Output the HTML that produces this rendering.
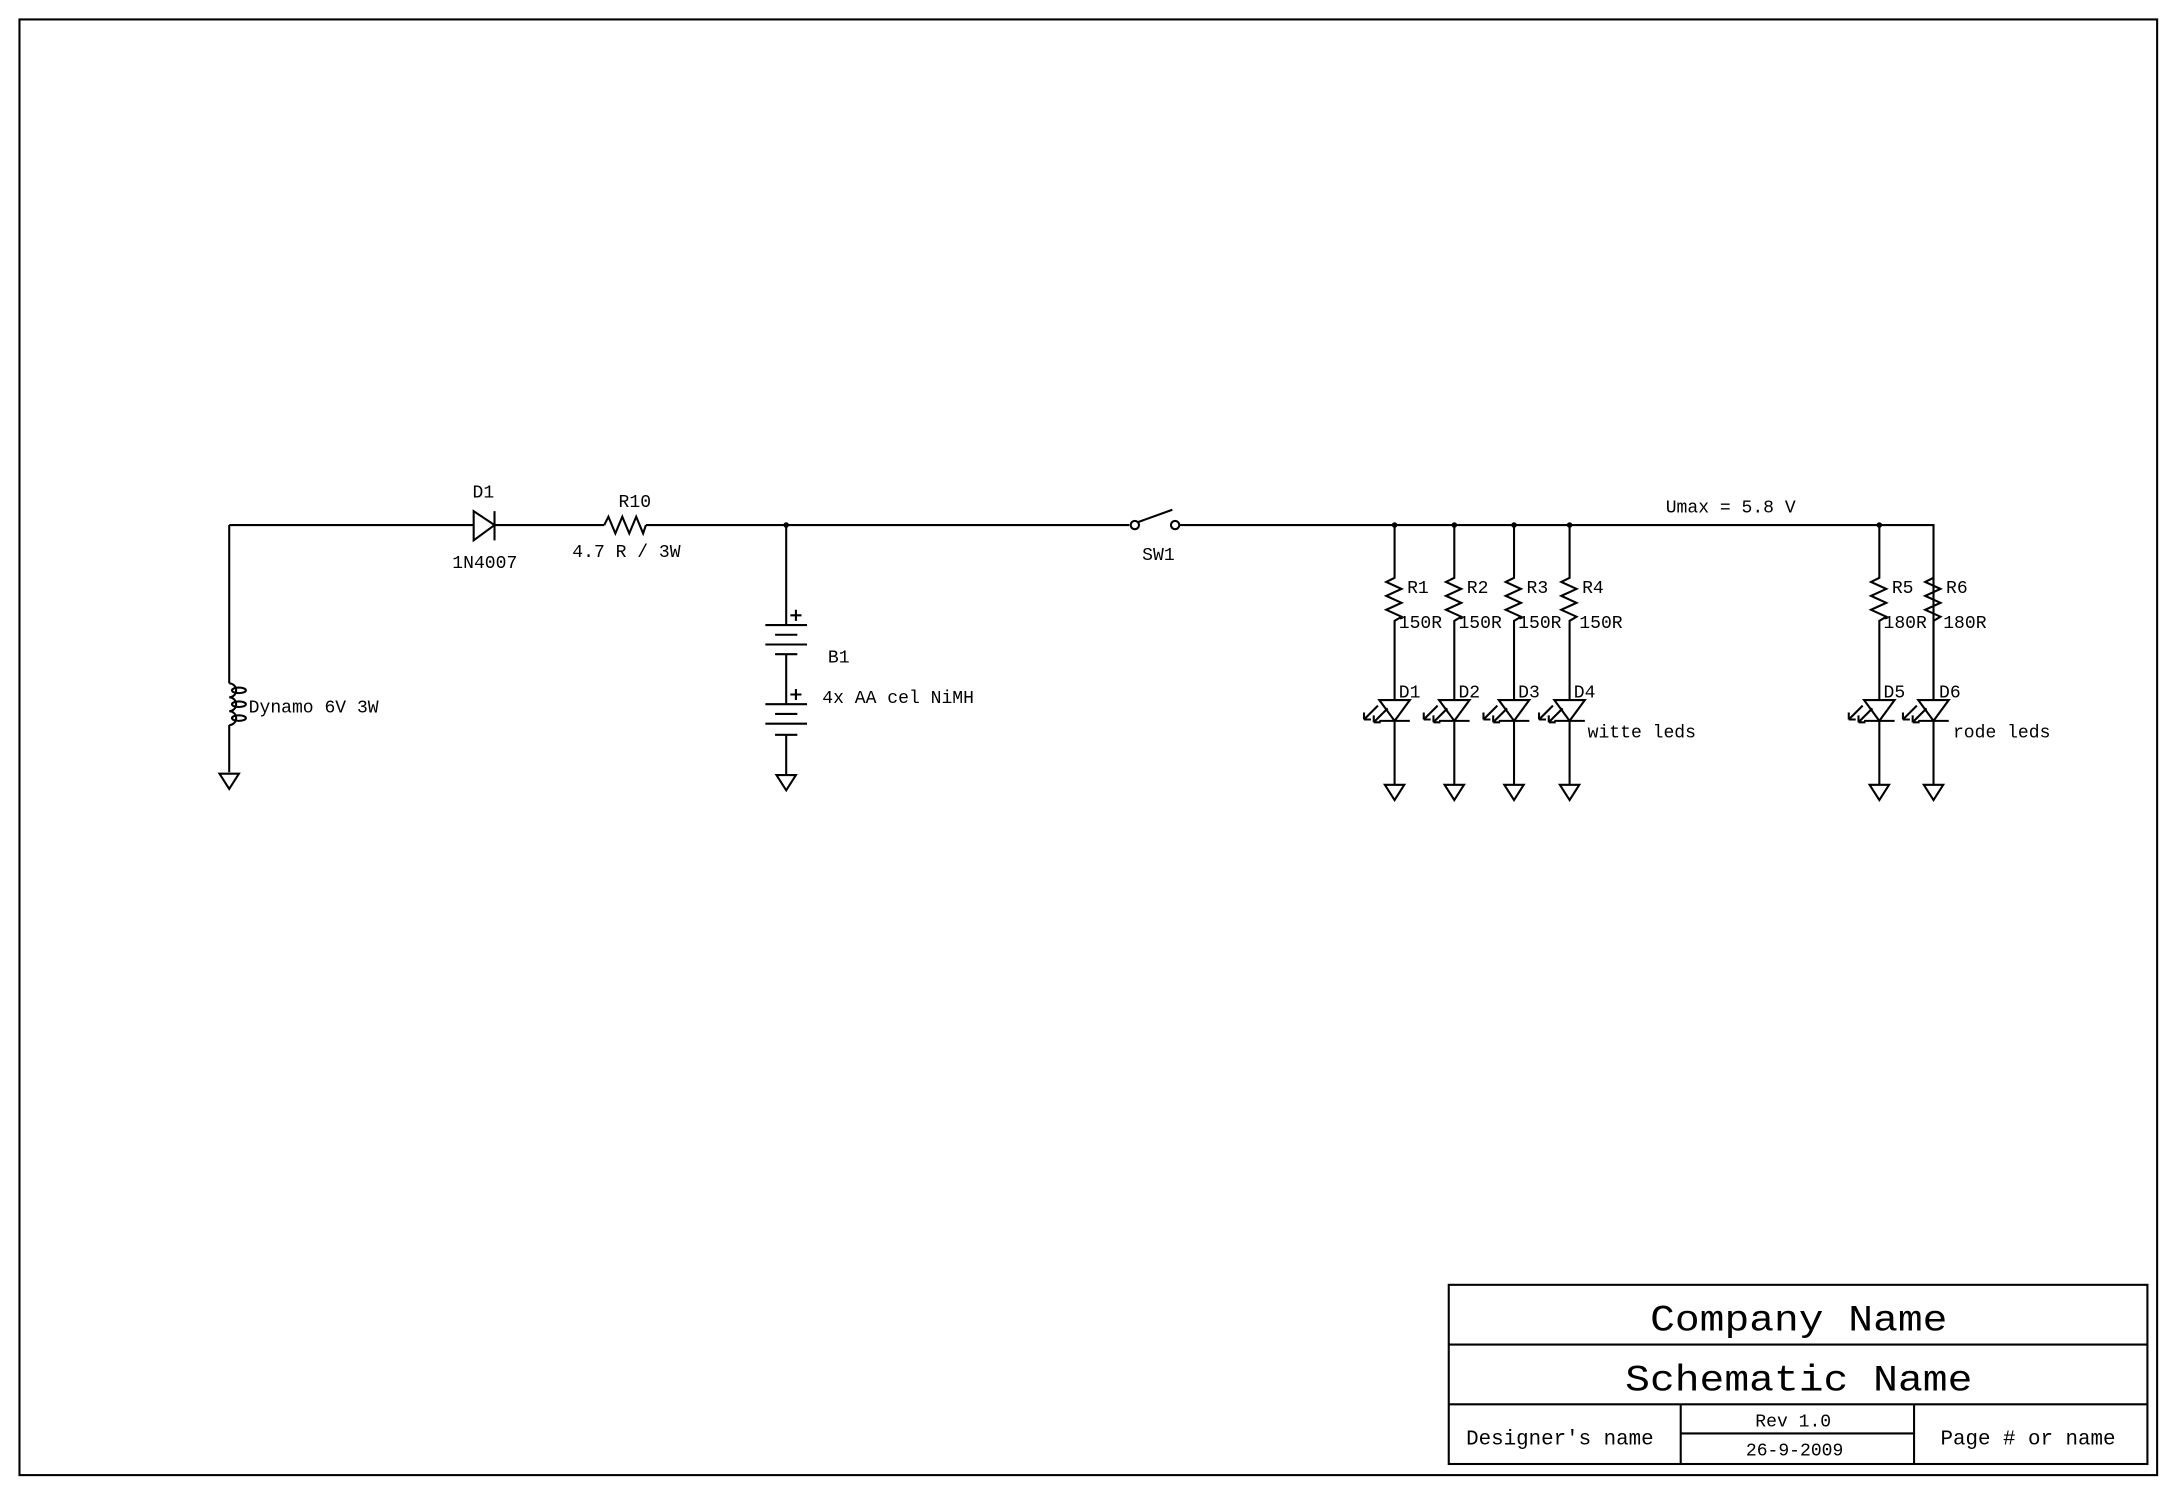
<!DOCTYPE html>
<html><head><meta charset="utf-8"><style>
html,body{margin:0;padding:0;background:#fff;}
svg{display:block;}
text{font-family:"Liberation Mono","DejaVu Sans Mono",monospace;fill:#000;}
</style></head><body>
<svg width="2178" height="1494" viewBox="0 0 1568 1075.6" xmlns="http://www.w3.org/2000/svg">
<defs>
<path id="arr" d="M-12 508 l-10 10 M-22 518 h5 M-22 518 v-5 M-5 510 l-10 10 M-15 520 h5 M-15 520 v-5"/>
</defs>
<g fill="none" stroke="#000" stroke-width="1.5">
<rect x="14" y="14" width="1539" height="1048"/>
<path d="M165 378 H341 M356 378 H435 M465 378 H813 M849 378 H1392 V503"/>
<path d="M165 378 V492 M165 522 V556"/>
<path d="M165 492 a5 5 0 0 1 0 10 a5 5 0 0 1 0 10 a5 5 0 0 1 0 10"/>
<ellipse cx="172" cy="497" rx="5" ry="2"/>
<ellipse cx="172" cy="507" rx="5" ry="2"/>
<ellipse cx="172" cy="517" rx="5" ry="2"/>
<path d="M158 557 H172 L165 568 Z"/>
<path d="M341 368 V389 L356 378 Z M356 368 V389"/>
<path d="M435 378 L438 372 L443 384 L448 372 L453 384 L458 372 L463 384 L465 378"/>
<path d="M566 378 V450 M551 450 H581 M558 457 H574 M551 464 H581 M558 471 H574 M566 471 V507 M551 507 H581 M558 514 H574 M551 521 H581 M558 529 H574 M566 529 V558"/>
<path d="M569 443 H577 M573 439 V447 M569 500 H577 M573 496 V504"/>
<path d="M559 558 H573 L566 569 Z"/>
<circle cx="817" cy="378" r="3"/>
<circle cx="846" cy="378" r="3"/>
<path d="M819 376 L844 367"/>
<rect x="1043" y="925" width="503" height="129"/>
<path d="M1043 968 H1546 M1043 1011 H1546 M1210 1011 V1054 M1378 1011 V1054 M1210 1032 H1378"/>
</g>
<g fill="#000">
<circle cx="566" cy="378" r="2"/>
<circle cx="1004" cy="378" r="2"/>
<circle cx="1047" cy="378" r="2"/>
<circle cx="1090" cy="378" r="2"/>
<circle cx="1130" cy="378" r="2"/>
<circle cx="1353" cy="378" r="2"/>
</g>
<g fill="none" stroke="#000" stroke-width="1.5">
<path d="M1004 378 V416 l-6 3 l11 5 l-11 5 l11 5 l-11 5 l11 5 l-5 3 V504 M993 504 H1015 L1004 519 Z M993 519 H1015 M1004 519 V565 M997 565 H1011 L1004 576 Z"/>
<path d="M1047 378 V416 l-6 3 l11 5 l-11 5 l11 5 l-11 5 l11 5 l-5 3 V504 M1036 504 H1058 L1047 519 Z M1036 519 H1058 M1047 519 V565 M1040 565 H1054 L1047 576 Z"/>
<path d="M1090 378 V416 l-6 3 l11 5 l-11 5 l11 5 l-11 5 l11 5 l-5 3 V504 M1079 504 H1101 L1090 519 Z M1079 519 H1101 M1090 519 V565 M1083 565 H1097 L1090 576 Z"/>
<path d="M1130 378 V416 l-6 3 l11 5 l-11 5 l11 5 l-11 5 l11 5 l-5 3 V504 M1119 504 H1141 L1130 519 Z M1119 519 H1141 M1130 519 V565 M1123 565 H1137 L1130 576 Z"/>
<path d="M1353 378 V416 l-6 3 l11 5 l-11 5 l11 5 l-11 5 l11 5 l-5 3 V504 M1342 504 H1364 L1353 519 Z M1342 519 H1364 M1353 519 V565 M1346 565 H1360 L1353 576 Z"/>
<path d="M1392 416 l-6 3 l11 5 l-11 5 l11 5 l-11 5 l11 5 l-5 3 V504 M1381 504 H1403 L1392 519 Z M1381 519 H1403 M1392 519 V565 M1385 565 H1399 L1392 576 Z"/>
<use href="#arr" x="1004"/>
<use href="#arr" x="1047"/>
<use href="#arr" x="1090"/>
<use href="#arr" x="1130"/>
<use href="#arr" x="1353"/>
<use href="#arr" x="1392"/>
</g>
<g font-size="13">
<text x="348" y="358" text-anchor="middle">D1</text>
<text x="349" y="409" text-anchor="middle">1N4007</text>
<text x="457" y="365" text-anchor="middle">R10</text>
<text x="451" y="401" text-anchor="middle">4.7 R / 3W</text>
<text x="179" y="513">Dynamo 6V 3W</text>
<text x="596" y="477">B1</text>
<text x="592" y="506">4x AA cel NiMH</text>
<text x="834" y="403" text-anchor="middle">SW1</text>
<text x="1246" y="369" text-anchor="middle">Umax = 5.8 V</text>
<text x="1013" y="427">R1</text><text x="1007" y="452">150R</text><text x="1007" y="502">D1</text>
<text x="1056" y="427">R2</text><text x="1050" y="452">150R</text><text x="1050" y="502">D2</text>
<text x="1099" y="427">R3</text><text x="1093" y="452">150R</text><text x="1093" y="502">D3</text>
<text x="1139" y="427">R4</text><text x="1137" y="452">150R</text><text x="1133" y="502">D4</text>
<text x="1362" y="427">R5</text><text x="1356" y="452">180R</text><text x="1356" y="502">D5</text>
<text x="1401" y="427">R6</text><text x="1399" y="452">180R</text><text x="1396" y="502">D6</text>
<text x="1143" y="531">witte leds</text>
<text x="1406" y="531">rode leds</text>
<text x="1291" y="1027" text-anchor="middle">Rev 1.0</text>
<text x="1292" y="1048" text-anchor="middle">26-9-2009</text>
</g>
<g>
<text x="1295" y="958" font-size="27" text-anchor="middle" textLength="214" lengthAdjust="spacingAndGlyphs">Company Name</text>
<text x="1295" y="1001" font-size="27" text-anchor="middle" textLength="250" lengthAdjust="spacingAndGlyphs">Schematic Name</text>
<text x="1123" y="1040" font-size="15" text-anchor="middle">Designer's name</text>
<text x="1460" y="1040" font-size="15" text-anchor="middle">Page # or name</text>
</g>
</svg>
</body></html>
